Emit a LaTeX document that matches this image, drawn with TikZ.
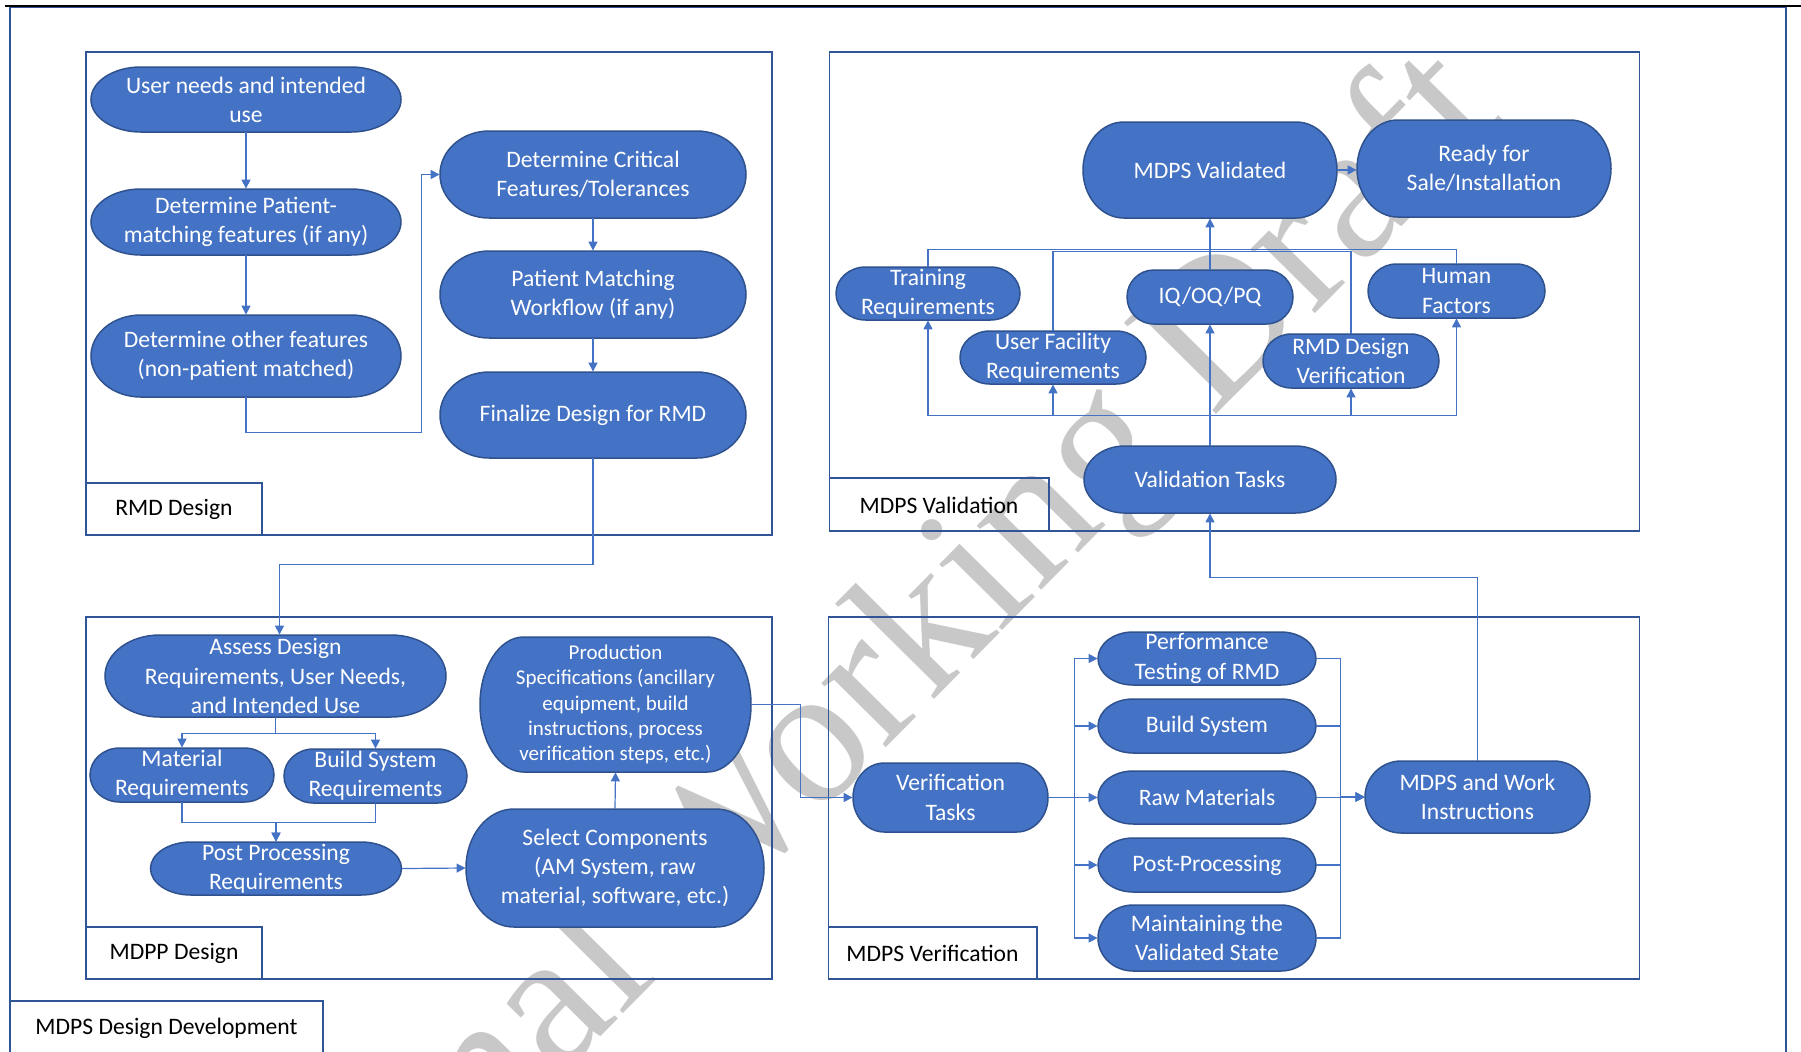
\documentclass[tikz,border=0pt]{standalone}
\usepackage{fontspec}
\setmainfont{Carlito}
\newfontfamily\wmserif{Liberation Serif}
\usetikzlibrary{arrows.meta,calc}
\definecolor{nfill}{HTML}{4472C4}
\definecolor{nborder}{HTML}{2F528F}
\definecolor{framecol}{HTML}{2F5597}
\definecolor{conncol}{HTML}{4472C4}
\definecolor{wmgray}{RGB}{200,200,200}
\newcommand\mynodefont{\fontsize{11.8}{14.6}\selectfont}
\newcommand\mysmallfont{\fontsize{10.5}{12.6}\selectfont}
\newcommand\mywmfont{\wmserif\fontsize{99}{99}\selectfont}
\tikzset{
  conn/.style={draw=conncol, line width=0.6pt, -{Triangle[length=4.5pt,width=4.5pt]}},
  cline/.style={draw=conncol, line width=0.6pt},
  secframe/.style={draw=framecol, line width=0.8pt},
  ttext/.style={text=white, font=\mynodefont, align=center, inner sep=0pt},
  lbl/.style={font=\mynodefont, text=black, inner sep=0pt}
}
% terminator-shaped node: [options]{name}{cx}{cy}{w}{h}{text}
\newcommand\termnode[7][]{%
  \pgfmathsetmacro\tmRX{0.161*#5}%
  \pgfmathsetmacro\tmHY{#6/2}%
  \pgfmathsetmacro\tmL{#3-#5/2+\tmRX}%
  \pgfmathsetmacro\tmR{#3+#5/2-\tmRX}%
  \pgfmathsetmacro\tmT{#4-\tmHY}%
  \pgfmathsetmacro\tmB{#4+\tmHY}%
  \filldraw[fill=nfill,draw=nborder,line width=0.75pt] (\tmL,\tmT) -- (\tmR,\tmT)
    arc[start angle=-90,end angle=90,x radius=\tmRX,y radius=\tmHY] -- (\tmL,\tmB)
    arc[start angle=90,end angle=270,x radius=\tmRX,y radius=\tmHY] -- cycle;
  \node[ttext,minimum width=#5*0.5pt,minimum height=#6*0.5pt,#1] (#2) at (#3,#4) {#7};
}
\begin{document}
\begin{tikzpicture}[x=0.5pt,y=-0.5pt]
\useasboundingbox (0,0) rectangle (1801,1051);
\clip (0,0) rectangle (1801,1051);
% watermark
\node[rotate=45.3, text=wmgray, font=\mywmfont, inner sep=0pt] (wm) at (905,660) {Final Working Draft};
% page line and outer frame
\draw[black, line width=1pt] (5,5.5) -- (1801,5.5);
\draw[secframe] (10,7.5) rectangle (1786,1080);
\draw[secframe] (10,1001) rectangle (323,1080);
\node[lbl] (ldev) at (166.5,1028) {MDPS Design Development};
% section frames
\draw[secframe] (86,52) rectangle (772,535);
\draw[secframe] (86,483) rectangle (262,535);
\node[lbl] (lrmd) at (174,509) {RMD Design};
\draw[secframe] (829.5,52) rectangle (1639.5,531);
\draw[secframe] (829.5,478) rectangle (1049,531);
\node[lbl] (lval) at (939,505) {MDPS Validation};
\draw[secframe] (86,617) rectangle (772,979);
\draw[secframe] (86,927) rectangle (262,979);
\node[lbl] (lmdpp) at (174,953) {MDPP Design};
\draw[secframe] (828.5,617) rectangle (1639.5,979);
\draw[secframe] (828.5,927) rectangle (1037,979);
\node[lbl] (lver) at (932.5,953) {MDPS Verification};
% RMD Design nodes
\termnode{u1}{246}{99.5}{310}{65}{User needs and intended\\use}
\termnode{u2}{246}{222}{310}{66}{Determine Patient-\\matching features (if any)}
\termnode{u3}{246}{356}{310}{82}{Determine other features\\(non-patient matched)}
\termnode{c1}{593}{174.5}{306}{87}{Determine Critical\\Features/Tolerances}
\termnode{c2}{593}{294.5}{306}{87}{Patient Matching\\Workflow (if any)}
\termnode{c3}{593}{415}{306}{86}{Finalize Design for RMD}
% MDPP Design nodes
\termnode{m1}{275.5}{676}{341}{82}{Assess Design\\Requirements, User Needs,\\and Intended Use}
\termnode{m2}{182}{775}{184}{54}{Material\\Requirements}
\termnode{m3}{375.5}{776}{183}{54}{Build System\\Requirements}
\termnode{m4}{276}{868.5}{251}{53}{Post Processing\\Requirements}
\termnode[font=\mysmallfont]{m5}{615.5}{704.5}{271}{135}{Production\\Specifications (ancillary\\equipment, build\\instructions, process\\verification steps, etc.)}
\termnode{m6}{615}{868}{298}{118}{Select Components\\(AM System, raw\\material, software, etc.)}
% MDPS Verification nodes
\termnode{v1}{950.5}{797.5}{195}{69}{Verification\\Tasks}
\termnode{p1}{1207}{658.5}{218}{53}{Performance\\Testing of RMD}
\termnode{p2}{1207}{726}{218}{54}{Build System}
\termnode{p3}{1207}{797.5}{218}{53}{Raw Materials}
\termnode{p4}{1207}{865}{218}{54}{Post-Processing}
\termnode{p5}{1207}{938}{218}{66}{Maintaining the\\Validated State}
\termnode{w1}{1477.5}{797}{225}{72}{MDPS and Work\\Instructions}
% MDPS Validation nodes
\termnode{t0}{1210}{170}{254}{96}{MDPS Validated}
\termnode{t7}{1484}{168.5}{254}{97}{Ready for\\Sale/Installation}
\termnode{t1}{928}{293.5}{184}{53}{Training\\Requirements}
\termnode{t2}{1053}{357.5}{186}{53}{User Facility\\Requirements}
\termnode{t3}{1210}{297}{166}{54}{IQ/OQ/PQ}
\termnode{t4}{1351}{361}{176}{54}{RMD Design\\Verification}
\termnode{t5}{1456.5}{291}{177}{54}{Human\\Factors}
\termnode{t6}{1210}{479.5}{252}{67}{Validation Tasks}
% RMD connectors
\draw[conn] (u1.south) -- (u2.north);
\draw[conn] (u2.south) -- (u3.north);
\draw[conn] (u3.south) -- ++(0,35) -| ($(c1.west)+(-18.5,0)$) -- (c1.west);
\draw[conn] (c1.south) -- (c2.north);
\draw[conn] (c2.south) -- (c3.north);
\draw[conn] (c3.south) -- ++(0,106) -| ($(m1.north)+(4,0)$);
% MDPP connectors
\draw[conn] (m1.south) -- ++(0,16) -| (m2.north);
\draw[conn] (m1.south) -- ++(0,16) -| (m3.north);
\draw[conn] (m2.south) -- ++(0,20) -| (m4.north);
\draw[conn] (m3.south) -- ++(0,19) -| (m4.north);
\draw[conn] (m4.east) -- (m6.west);
\draw[conn] (m6.north) -- (m5.south);
\draw[conn] (m5.east) -- ++(49,0) |- (v1.west);
% Verification connectors
\foreach \n in {p1,p2,p3,p4,p5} \draw[conn] (v1.east) -- ++(26,0) |- (\n.west);
\foreach \n in {p1,p2,p3,p4,p5} \draw[conn] (\n.east) -- ++(24,0) |- (w1.west);
\draw[conn] (w1.north) -- ++(0,-183) -| (t6.south);
% Validation connectors
\draw[conn] (t0.east) -- (t0.east -| t7.west);
\draw[cline] (t1.north) |- ($(t0.south)+(0,31)$);
\draw[cline] (t5.north) |- ($(t0.south)+(0,31)$);
\draw[cline] (t2.north) |- ($(t0.south)+(0,33)$);
\draw[cline] (t4.north) |- ($(t0.south)+(0,33)$);
\draw[conn] (t3.north) -- (t0.south);
\draw[conn] (t6.north) -- (t3.south);
\foreach \n in {t1,t2,t4,t5} \draw[conn] (t6.north) -- ++(0,-30) -| (\n.south);
\end{tikzpicture}
\end{document}
